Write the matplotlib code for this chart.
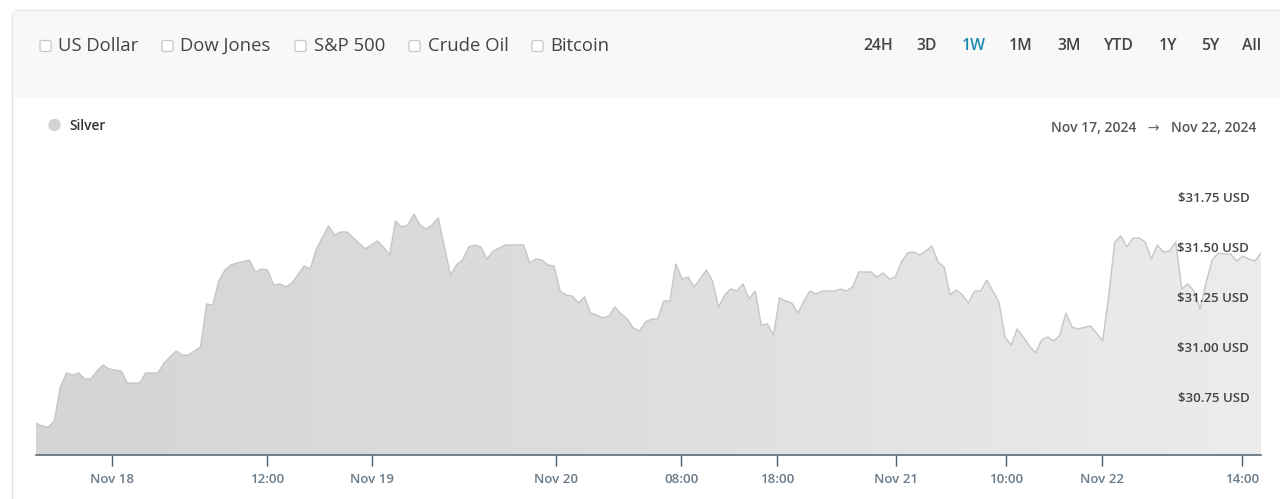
import matplotlib
matplotlib.use("Agg")
import matplotlib.pyplot as plt
from matplotlib.patches import FancyBboxPatch, Rectangle, Circle
from matplotlib.colors import LinearSegmentedColormap
import numpy as np

plt.rcParams['font.family'] = ['Open Sans', 'DejaVu Sans']

# ---------------- data ----------------
sample_idx = [0, 1, 2, 3, 4, 5, 6, 7, 8, 9, 10, 11, 12, 14, 15, 17, 18, 20, 21, 23,
              24, 25, 26, 27, 28, 29, 30, 31, 32, 33, 35, 36, 37, 38, 39, 40, 41, 42, 44, 45,
              46, 48, 49, 50, 51, 53, 54, 56, 57, 58, 59, 60, 61, 62, 63, 64, 65, 66, 68, 69,
              70, 71, 72, 73, 74, 75, 77, 80, 81, 82, 83, 84, 85, 86, 87, 88, 89, 90, 91, 92,
              93, 94, 95, 96, 97, 98, 99, 100, 101, 102, 103, 104, 105, 106, 107, 108, 110, 111, 112, 113,
              114, 115, 116, 117, 118, 119, 120, 121, 122, 123, 124, 125, 126, 127, 128, 129, 131, 132, 133, 134,
              135, 137, 138, 139, 140, 141, 142, 143, 144, 145, 146, 147, 148, 149, 150, 151, 152, 153, 154, 155,
              156, 157, 158, 159, 160, 161, 162, 163, 164, 165, 166, 167, 168, 169, 170, 171, 173, 174, 175, 176,
              177, 178, 179, 180, 181, 182, 183, 184, 185, 186, 187, 188, 189, 190, 191, 192, 193, 194, 195, 196,
              197, 198, 199, 200, 201]
silver_price = [30.63, 30.615, 30.61, 30.64, 30.81, 30.88, 30.87, 30.88, 30.85, 30.85,
                30.89, 30.92, 30.90, 30.89, 30.83, 30.83, 30.88, 30.88, 30.93, 30.99,
                30.97, 30.97, 30.99, 31.01, 31.225, 31.22, 31.34, 31.395, 31.42, 31.43,
                31.445, 31.385, 31.40, 31.395, 31.32, 31.325, 31.31, 31.33, 31.415, 31.40,
                31.50, 31.615, 31.57, 31.585, 31.585, 31.53, 31.50, 31.54, 31.51, 31.47,
                31.64, 31.61, 31.62, 31.675, 31.62, 31.60, 31.62, 31.655, 31.37, 31.42,
                31.445, 31.51, 31.52, 31.51, 31.45, 31.49, 31.52, 31.52, 31.43, 31.45,
                31.445, 31.42, 31.415, 31.29, 31.27, 31.265, 31.23, 31.26, 31.18, 31.17,
                31.155, 31.165, 31.21, 31.175, 31.15, 31.105, 31.09, 31.135, 31.15, 31.15,
                31.24, 31.24, 31.425, 31.35, 31.36, 31.31, 31.395, 31.34, 31.21, 31.27,
                31.30, 31.29, 31.325, 31.25, 31.29, 31.12, 31.125, 31.07, 31.255, 31.24,
                31.23, 31.18, 31.24, 31.29, 31.275, 31.29, 31.29, 31.30, 31.29, 31.31,
                31.385, 31.385, 31.36, 31.38, 31.35, 31.36, 31.435, 31.48, 31.485, 31.47,
                31.49, 31.515, 31.435, 31.41, 31.27, 31.295, 31.27, 31.23, 31.29, 31.29,
                31.345, 31.29, 31.235, 31.06, 31.02, 31.10, 31.06, 31.015, 30.98, 31.045,
                31.06, 31.04, 31.07, 31.18, 31.11, 31.10, 31.115, 31.08, 31.04, 31.26,
                31.535, 31.565, 31.51, 31.555, 31.555, 31.535, 31.45, 31.52, 31.485, 31.49,
                31.535, 31.30, 31.325, 31.29, 31.20, 31.335, 31.445, 31.48, 31.475, 31.475,
                31.44, 31.465, 31.45, 31.44, 31.48]

xtick_labels = ['Nov 18', '12:00', 'Nov 19', 'Nov 20', '08:00', '18:00',
                'Nov 21', '10:00', 'Nov 22', '14:00']
xtick_pos = [12.5, 37.9, 55.1, 85.4, 105.9, 121.6, 141.1, 159.2, 174.9, 197.9]

ytick_vals = [30.75, 31.00, 31.25, 31.50, 31.75]
ytick_labels = ['$30.75 USD', '$31.00 USD', '$31.25 USD', '$31.50 USD', '$31.75 USD']

series_options = ['US Dollar', 'Dow Jones', 'S&P 500', 'Crude Oil', 'Bitcoin']
range_buttons = ['24H', '3D', '1W', '1M', '3M', 'YTD', '1Y', '5Y', 'All']
active_range = '1W'
series_name = 'Silver'
date_from, date_to = 'Nov 17, 2024', 'Nov 22, 2024'

# ---------------- figure ----------------
W, H = 1280, 499
fig = plt.figure(figsize=(W / 100, H / 100), dpi=100)
fig.patch.set_facecolor('white')

# overlay in pixel coordinates (y downwards)
ov = fig.add_axes([0, 0, 1, 1], zorder=0)
ov.set_xlim(0, W)
ov.set_ylim(H, 0)
ov.axis('off')

# card border + header panel
ov.add_patch(FancyBboxPatch((12.5, 10.5), 1300, 600,
                            boxstyle='round,pad=0,rounding_size=6',
                            fc='white', ec='#e2e2e2', lw=1.0))
ov.add_patch(Rectangle((13.2, 11.2), 1290, 87, fc='#f8f8f8', ec='none'))

# series checkboxes
cb_x = [40, 162, 295, 409, 532]
for cx, lab in zip(cb_x, series_options):
    ov.add_patch(FancyBboxPatch((cx, 40.5), 11, 11,
                                boxstyle='round,pad=0,rounding_size=2',
                                fc='white', ec='#c8c8c8', lw=0.9))
    ov.text(cx + 18.5, 45.5, lab, fontsize=13.3, color='#444444',
            ha='left', va='center')

# range buttons
rb_x = [878, 927, 974, 1021, 1069, 1119, 1168, 1210, 1252]
for bx, lab in zip(rb_x, range_buttons):
    ov.text(bx, 45.5, lab, fontsize=11.3, fontweight='semibold',
            color='#1d8ab3' if lab == active_range else '#444444',
            ha='center', va='center')

# legend entry
ov.add_patch(Circle((54.5, 125), 6.2, fc='#d2d2d2', ec='none'))
ov.text(69, 126, series_name, fontsize=9.9, fontweight='semibold',
        color='#333333', ha='left', va='center')

# date range
ov.text(1136, 128, date_from, fontsize=10, fontweight='semibold',
        color='#555555', ha='right', va='center')
ov.text(1153.5, 128, '\u2192', fontsize=10, color='#666666',
        ha='center', va='center', family=['DejaVu Sans'])
ov.text(1171, 128, date_to, fontsize=10, fontweight='semibold',
        color='#555555', ha='left', va='center')

# ---------------- chart axes ----------------
x_left, x_right = 36, 1261
y_top, y_bot = 160, 455
ax = fig.add_axes([x_left / W, (H - y_bot) / H, (x_right - x_left) / W, (y_bot - y_top) / H],
                  zorder=1)
ax.patch.set_alpha(0)
v_bot = 31.0 - (y_bot - 349) / 200.0
v_top = 31.0 + (349 - y_top) / 200.0
ax.set_xlim(0, 201)
ax.set_ylim(v_bot, v_top)

xs = np.array(sample_idx, dtype=float)
ys = np.array(silver_price)

poly = ax.fill_between(xs, ys, v_bot, color='none', lw=0)
cmap = LinearSegmentedColormap.from_list('g', ['#d5d5d5', '#dedede', '#ececec'])
grad = np.linspace(0, 1, 256).reshape(1, -1)
im = ax.imshow(grad, cmap=cmap, aspect='auto', extent=[0, 201, v_bot, v_top],
               origin='lower', zorder=1)
clip = poly.get_paths()[0]
im.set_clip_path(clip, transform=ax.transData)
ax.plot(xs, ys, color='#c6c6c6', lw=1.0, zorder=2)

# spines
for s in ['top', 'right', 'left']:
    ax.spines[s].set_visible(False)
ax.spines['bottom'].set_color('#4f5e6c')
ax.spines['bottom'].set_linewidth(1.1)
ax.spines['bottom'].set_zorder(3)

ax.set_xticks(xtick_pos)
ax.set_xticklabels(xtick_labels)
ax.tick_params(axis='x', direction='out', length=8, width=1.0, color='#4f5e6c',
               labelsize=9.5, labelcolor='#6a7a88', pad=5)
for t in ax.get_xticklabels():
    t.set_fontweight('semibold')
ax.set_yticks([])

# y labels inside the plot
for v, lab in zip(ytick_vals, ytick_labels):
    ax.text(0.9905, v, lab, transform=ax.get_yaxis_transform(),
            ha='right', va='center', fontsize=9.5, fontweight='semibold',
            color='#444444', zorder=4)

fig.savefig('out.png', dpi=100)
